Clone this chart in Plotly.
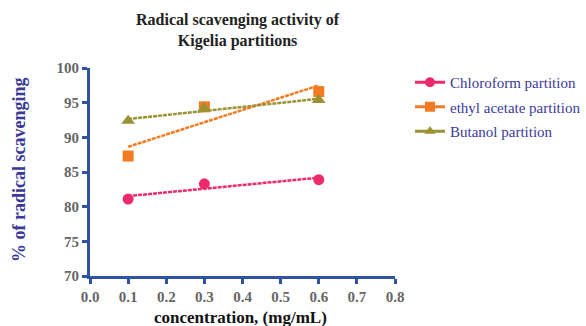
import numpy as np
import plotly.graph_objects as go

concentration = [0.1, 0.3, 0.6]
chloroform = [81.1, 83.3, 83.9]
ethyl_acetate = [87.3, 94.4, 96.6]
butanol = [92.4, 94.2, 95.4]

series = [
    ("Chloroform partition", chloroform, "#EC2A6C", "circle", 11),
    ("ethyl acetate partition", ethyl_acetate, "#F47B22", "square", 11),
    ("Butanol partition", butanol, "#9B9232", "triangle-up", 12),
]

x_ticks = [0.0, 0.1, 0.2, 0.3, 0.4, 0.5, 0.6, 0.7, 0.8]
y_ticks = [70, 75, 80, 85, 90, 95, 100]

serif = "Liberation Serif"
axis_col = "#2F53A0"

W, H = 586, 326
L, R, T, B = 90, 191, 68, 50
pw, ph = W - L - R, H - T - B

def px_x(p):
    return (p - L) / pw

def px_y(p):
    return (H - B - p) / ph

fig = go.Figure()
xs = np.array(concentration)
for name, vals, col, sym, sz in series:
    slope, icpt = np.polyfit(xs, np.array(vals), 1)
    xl = [xs.min(), xs.max()]
    fig.add_trace(go.Scatter(
        x=xl, y=[icpt + slope * v for v in xl], mode="lines",
        line=dict(color=col, width=2.5, dash="4px,1px"),
        showlegend=False, hoverinfo="skip"))
    fig.add_trace(go.Scatter(
        x=concentration, y=vals, mode="markers",
        marker=dict(color=col, symbol=sym, size=sz),
        showlegend=False))
    fig.add_trace(go.Scatter(
        x=[None], y=[None], mode="lines+markers", name=name, legendgroup=name,
        line=dict(color=col, width=3),
        marker=dict(color=col, symbol=sym, size=10)))

fig.update_layout(
    width=W, height=H,
    margin=dict(l=L, r=R, t=T, b=B, autoexpand=False),
    paper_bgcolor="white", plot_bgcolor="white",
    legend=dict(xref="container", yref="container",
                x=410 / W, xanchor="left", y=1 - 66 / H, yanchor="top",
                font=dict(family=serif, size=15, color="#3A3A9A"),
                itemwidth=30, tracegroupgap=2, bgcolor="rgba(0,0,0,0)"),
    showlegend=True,
    annotations=[
        dict(text="<b>Radical scavenging activity of<br>Kigelia partitions</b>",
             xref="paper", yref="paper", x=px_x(238), y=px_y(31),
             xanchor="center", yanchor="middle", showarrow=False,
             font=dict(family=serif, size=16, color="#222222")),
        dict(text="<b>concentration, (mg/mL)</b>",
             xref="paper", yref="paper", x=px_x(240), y=px_y(317),
             xanchor="center", yanchor="middle", showarrow=False,
             font=dict(family=serif, size=17, color="#111111")),
        dict(text="<b>% of radical scavenging</b>", textangle=-90,
             xref="paper", yref="paper", x=px_x(19), y=px_y(170),
             xanchor="center", yanchor="middle", showarrow=False,
             font=dict(family=serif, size=18, color="#3A3A9A")),
    ],
)
fig.update_xaxes(
    range=[0, 0.8], tickvals=x_ticks, ticktext=[f"<b>{v:.1f}</b>" for v in x_ticks],
    showgrid=False, zeroline=False, showline=True, linecolor=axis_col, linewidth=3,
    ticks="outside", tickcolor=axis_col, tickwidth=2.5, ticklen=5, automargin=False,
    tickfont=dict(family=serif, size=15, color="#666666"),
)
fig.update_yaxes(
    range=[70, 100], tickvals=y_ticks, ticktext=[f"<b>{v}</b>" for v in y_ticks],
    showgrid=False, zeroline=False, showline=True, linecolor=axis_col, linewidth=3,
    ticks="outside", tickcolor=axis_col, tickwidth=2.5, ticklen=5, automargin=False,
    tickfont=dict(family=serif, size=15, color="#666666"),
)

fig.write_html("out.html")
